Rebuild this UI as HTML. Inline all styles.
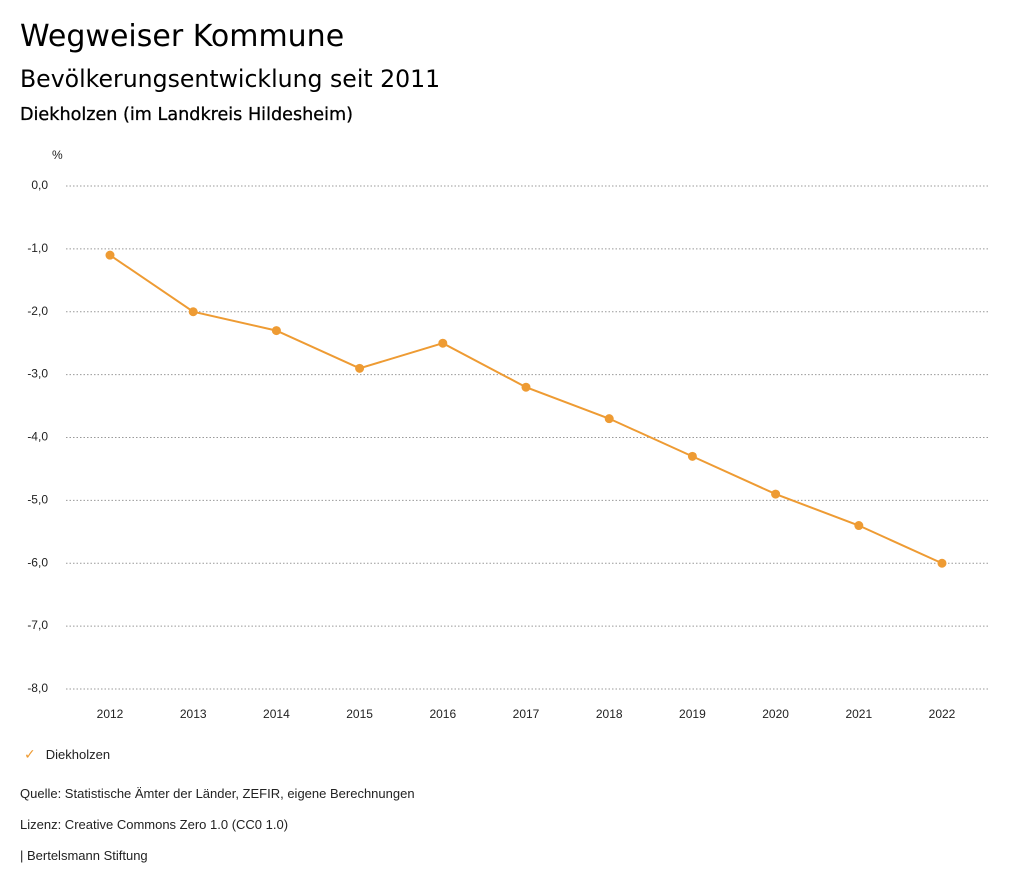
<!DOCTYPE html>
<html><head><meta charset="utf-8"><style>
body{margin:0;width:1024px;height:888px;background:#fff;font-family:"Liberation Sans","DejaVu Sans",sans-serif;color:#000;position:relative;overflow:hidden}
.t{position:absolute;left:20px;white-space:nowrap}
</style></head><body>
<div class="t" style="top:19px;font-size:30px;font-family:'DejaVu Sans',sans-serif">Wegweiser Kommune</div>
<div class="t" style="top:65px;font-size:23.6px;font-family:'DejaVu Sans',sans-serif">Bevölkerungsentwicklung seit 2011</div>
<div class="t" style="top:105px;font-size:17.6px;font-family:'DejaVu Sans',sans-serif;-webkit-text-stroke:0.3px #000">Diekholzen (im Landkreis Hildesheim)</div>
<svg id="chart" width="1024" height="888" style="position:absolute;left:0;top:0" font-family="Liberation Sans, sans-serif"></svg>
<div class="t" style="top:746px;left:24px;font-size:13px;color:#222"><span style="color:#ee9b33;font-size:14px;margin-right:10px">✓</span>Diekholzen</div>
<div class="t" style="top:786px;font-size:13px;color:#222">Quelle: Statistische Ämter der Länder, ZEFIR, eigene Berechnungen</div>
<div class="t" style="top:817px;font-size:13px;color:#222">Lizenz: Creative Commons Zero 1.0 (CC0 1.0)</div>
<div class="t" style="top:848px;font-size:13px;color:#222">| Bertelsmann Stiftung</div>
<script>
const years=[2012,2013,2014,2015,2016,2017,2018,2019,2020,2021,2022];
const values=[-1.1,-2.0,-2.3,-2.9,-2.5,-3.2,-3.7,-4.3,-4.9,-5.4,-6.0];
const yTicks=[0,-1,-2,-3,-4,-5,-6,-7,-8];
const svg=document.getElementById('chart');
const NS='http://www.w3.org/2000/svg';
const y=v=>186+(0-v)*(689-186)/8;
const x=i=>110+i*(942-110)/(years.length-1);
function mk(t,a){const e=document.createElementNS(NS,t);for(const k in a)e.setAttribute(k,a[k]);svg.appendChild(e);return e;}
const u=mk('text',{x:52,y:159,'font-size':12,fill:'#222'});u.textContent='%';


yTicks.forEach(v=>{
 const l=mk('line',{x1:66,x2:990,y1:y(v),y2:y(v),stroke:'#999','stroke-dasharray':'1.5,2','stroke-width':1});
 
 
 const t=mk('text',{x:48,y:y(v)+3,'font-size':12,fill:'#222','text-anchor':'end'});
 t.textContent=v.toFixed(1).replace('.',',');
 
 
});
years.forEach((yr,i)=>{
 const t=mk('text',{x:x(i),y:718,'font-size':12,fill:'#222','text-anchor':'middle'});
 t.textContent=yr;
 
 
});
const p=mk('polyline',{points:values.map((v,i)=>x(i)+','+y(v)).join(' '),fill:'none',stroke:'#ee9b33','stroke-width':2});


values.forEach((v,i)=>{
 const c=mk('circle',{cx:x(i),cy:y(v),r:4.5,fill:'#ee9b33'});
 
 
});
</script>
</body></html>
